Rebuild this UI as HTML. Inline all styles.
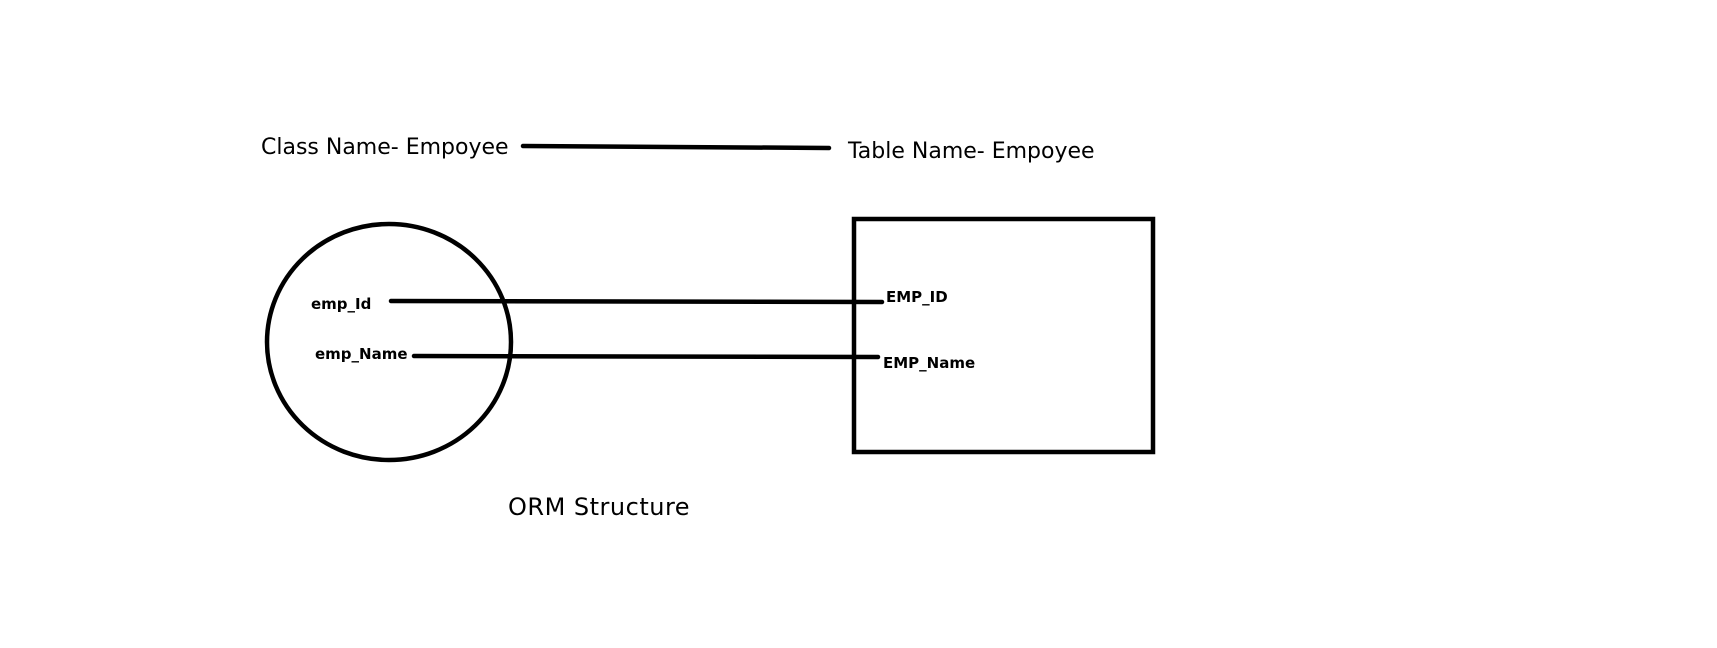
<!DOCTYPE html>
<html><head><style>
html,body{margin:0;padding:0;background:#fff;}
svg{display:block;}
text{font-family:"DejaVu Sans","Liberation Sans",sans-serif;fill:#000;}
</style></head><body>
<svg width="1717" height="648" viewBox="0 0 1717 648">
<rect width="1717" height="648" fill="#fff"/>
<text x="261" y="154" font-size="22">Class Name- Empoyee</text>
<line x1="523" y1="146" x2="829" y2="148" stroke="#000" stroke-width="4.5" stroke-linecap="round"/>
<text x="848" y="158" font-size="22">Table Name- Empoyee</text>
<ellipse cx="389" cy="342" rx="122" ry="118" fill="none" stroke="#000" stroke-width="4.5"/>
<rect x="854" y="219" width="299" height="233" fill="none" stroke="#000" stroke-width="4.5"/>
<text x="311" y="309" font-size="15" font-weight="bold">emp_Id</text>
<line x1="391" y1="301" x2="882" y2="302" stroke="#000" stroke-width="4.5" stroke-linecap="round"/>
<text x="886" y="302" font-size="15" font-weight="bold">EMP_ID</text>
<text x="315" y="359" font-size="15" font-weight="bold">emp_Name</text>
<line x1="414" y1="356" x2="878" y2="357" stroke="#000" stroke-width="4.5" stroke-linecap="round"/>
<text x="883" y="368" font-size="15" font-weight="bold">EMP_Name</text>
<text x="508" y="515" font-size="24" letter-spacing="0.5">ORM Structure</text>
</svg>
</body></html>
